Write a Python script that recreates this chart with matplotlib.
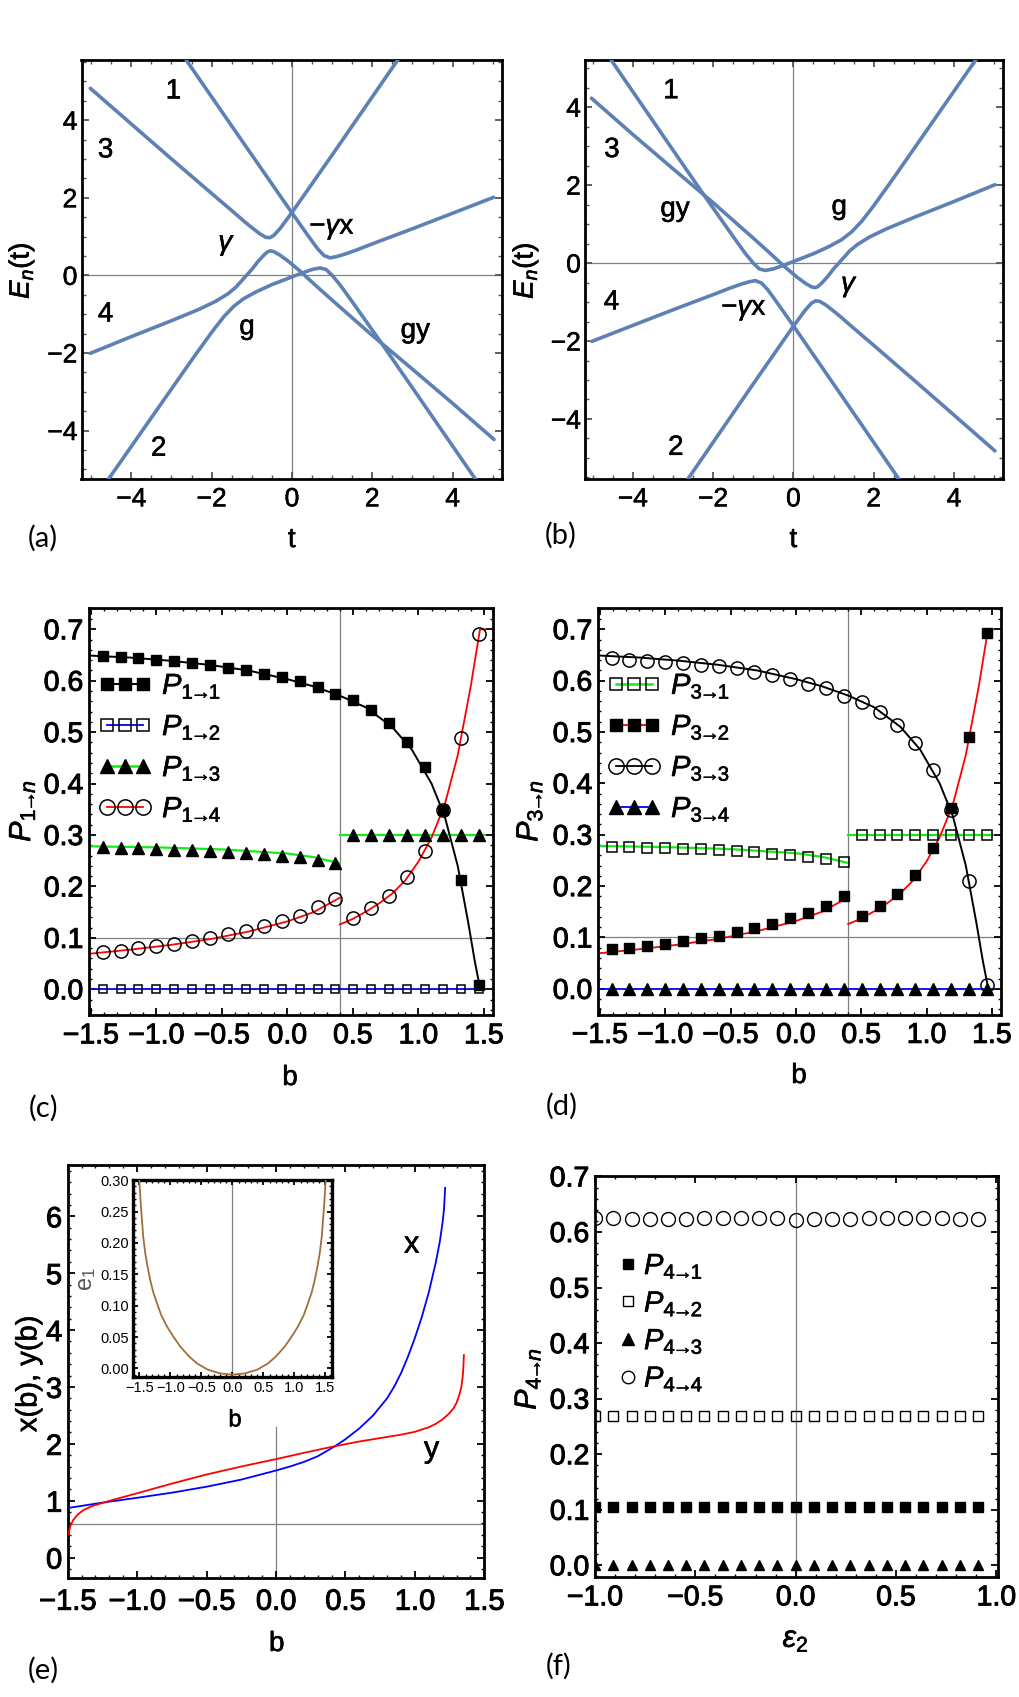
import matplotlib
matplotlib.use('Agg')
import matplotlib.pyplot as plt
import matplotlib.patheffects as pe
from matplotlib.lines import Line2D
from matplotlib.ticker import MultipleLocator

plt.rcParams['font.family'] = ['Liberation Sans', 'DejaVu Sans']
plt.rcParams['mathtext.fontset'] = 'custom'
plt.rcParams['mathtext.rm'] = 'Liberation Sans'
plt.rcParams['mathtext.it'] = 'Liberation Sans:italic'
plt.rcParams['mathtext.bf'] = 'Liberation Sans:bold'

# ---------------- data: panel (a) energy curves ----------------
A1_t = [-2.7, -1.5, 0.0, 0.3, 0.5, 0.65, 0.8, 0.95, 1.1, 1.3, 1.6, 2.0, 3.0, 4.0, 5.02]
A1_E = [5.65, 3.85, 1.61, 1.17, 0.88, 0.67, 0.51, 0.45, 0.48, 0.54, 0.65, 0.81, 1.2, 1.6, 2.01]
A2_t = [-5.02, -4.0, -3.0, -2.0, -1.5, -1.2, -1.0, -0.8, -0.65, -0.55, -0.45, -0.3, -0.1, 0.0, 1.0, 2.0, 2.7]
A2_E = [4.82, 3.9, 3.0, 2.11, 1.67, 1.40, 1.23, 1.07, 0.98, 0.97, 1.03, 1.20, 1.48, 1.62, 3.1, 4.6, 5.65]
A3_t = [-5.02, -4.0, -3.0, -2.3, -1.9, -1.6, -1.4, -1.2, -1.0, -0.85, -0.7, -0.6, -0.54, -0.45, -0.3, -0.1, 0.2, 0.6, 1.0, 2.0, 3.0, 4.0, 5.03]
A3_E = [-2.01, -1.58, -1.17, -0.87, -0.67, -0.48, -0.31, -0.08, 0.15, 0.35, 0.52, 0.61, 0.63, 0.61, 0.52, 0.37, 0.11, -0.27, -0.64, -1.55, -2.42, -3.3, -4.23]
A4_t = [-4.6, -3.5, -2.5, -2.0, -1.7, -1.45, -1.2, -0.9, -0.5, -0.2, 0.2, 0.5, 0.7, 0.85, 1.0, 1.2, 1.5, 2.17, 3.0, 4.0, 4.6]
A4_E = [-5.3, -3.67, -2.19, -1.47, -1.07, -0.80, -0.60, -0.43, -0.24, -0.12, 0.04, 0.15, 0.19, 0.15, 0.0, -0.25, -0.68, -1.66, -2.9, -4.4, -5.3]

# ---------------- data: panel (b) energy curves ----------------
B1_t = [2.7, 1.5, 0.0, -0.3, -0.5, -0.65, -0.8, -0.95, -1.1, -1.3, -1.6, -2.0, -3.0, -4.0, -5.02]
B1_E = [-5.65, -3.85, -1.61, -1.17, -0.88, -0.67, -0.51, -0.45, -0.48, -0.54, -0.65, -0.81, -1.2, -1.6, -2.01]
B2_t = [5.02, 4.0, 3.0, 2.0, 1.5, 1.2, 1.0, 0.8, 0.65, 0.55, 0.45, 0.3, 0.1, 0.0, -1.0, -2.0, -2.7]
B2_E = [-4.82, -3.9, -3.0, -2.11, -1.67, -1.40, -1.23, -1.07, -0.98, -0.97, -1.03, -1.20, -1.48, -1.62, -3.1, -4.6, -5.65]
B3_t = [5.02, 4.0, 3.0, 2.3, 1.9, 1.6, 1.4, 1.2, 1.0, 0.85, 0.7, 0.6, 0.54, 0.45, 0.3, 0.1, -0.2, -0.6, -1.0, -2.0, -3.0, -4.0, -5.03]
B3_E = [2.01, 1.58, 1.17, 0.87, 0.67, 0.48, 0.31, 0.08, -0.15, -0.35, -0.52, -0.61, -0.63, -0.61, -0.52, -0.37, -0.11, 0.27, 0.64, 1.55, 2.42, 3.3, 4.23]
B4_t = [4.6, 3.5, 2.5, 2.0, 1.7, 1.45, 1.2, 0.9, 0.5, 0.2, -0.2, -0.5, -0.7, -0.85, -1.0, -1.2, -1.5, -2.17, -3.0, -4.0, -4.6]
B4_E = [5.3, 3.67, 2.19, 1.47, 1.07, 0.80, 0.60, 0.43, 0.24, 0.12, -0.04, -0.15, -0.19, -0.15, 0.0, 0.25, 0.68, 1.66, 2.9, 4.4, 5.3]

E_ticks = [-4, -2, 0, 2, 4]
E_ticklabels = ['\u22124', '\u22122', '0', '2', '4']

# ---------------- data: panels (c), (d) ----------------
b_pts = [-1.41, -1.273, -1.137, -1.0, -0.863, -0.727, -0.59, -0.453, -0.317, -0.18, -0.043,
         0.093, 0.23, 0.367, 0.503, 0.64, 0.777, 0.913, 1.05, 1.187, 1.323, 1.46]
P11 = [0.648, 0.646, 0.645, 0.641, 0.638, 0.635, 0.631, 0.625, 0.621, 0.613, 0.607, 0.599, 0.587, 0.575,
       0.563, 0.543, 0.517, 0.481, 0.432, 0.349, 0.213, 0.009]
P12 = [0.0] * 22
P13 = [0.276, 0.275, 0.274, 0.273, 0.271, 0.270, 0.269, 0.267, 0.265, 0.263, 0.260, 0.257, 0.252, 0.246,
       0.3, 0.3, 0.3, 0.3, 0.3, 0.3, 0.3, 0.3]
P14 = [0.072, 0.075, 0.080, 0.084, 0.089, 0.094, 0.100, 0.107, 0.114, 0.123, 0.132, 0.143, 0.160, 0.176,
       0.138, 0.159, 0.182, 0.218, 0.268, 0.348, 0.488, 0.690]
P31 = [0.277, 0.276, 0.275, 0.274, 0.273, 0.272, 0.270, 0.268, 0.266, 0.263, 0.260, 0.257, 0.252, 0.247,
       0.3, 0.3, 0.3, 0.3, 0.3, 0.3, 0.3, 0.3]
P32 = [0.077, 0.080, 0.084, 0.087, 0.093, 0.098, 0.103, 0.110, 0.118, 0.127, 0.137, 0.148, 0.162, 0.180,
       0.141, 0.162, 0.185, 0.221, 0.274, 0.352, 0.490, 0.692]
P33 = [0.645, 0.641, 0.638, 0.636, 0.634, 0.631, 0.628, 0.624, 0.617, 0.610, 0.603, 0.594, 0.585, 0.571,
       0.559, 0.538, 0.513, 0.478, 0.426, 0.349, 0.209, 0.007]
P34 = [0.0] * 22

# theory curves
Lk_b = [-1.514, -1.2, -0.9, -0.6, -0.3, 0.0, 0.2, 0.4, 0.6, 0.8, 0.95, 1.1, 1.2, 1.3, 1.38, 1.43, 1.472]
Lk_v = [0.649, 0.645, 0.639, 0.631, 0.620, 0.603, 0.589, 0.571, 0.548, 0.510, 0.466, 0.400, 0.337, 0.240, 0.130, 0.055, 0.0]
Lr1_b = [-1.514, -1.2, -0.9, -0.6, -0.3, 0.0, 0.2, 0.4]
Lr1_v = [0.069, 0.077, 0.086, 0.097, 0.112, 0.132, 0.150, 0.178]
Lr2_b = [0.4, 0.5, 0.6, 0.7, 0.8, 0.9, 1.0, 1.1, 1.2, 1.3, 1.4, 1.47, 1.51]
Lr2_v = [0.126, 0.137, 0.151, 0.167, 0.186, 0.212, 0.248, 0.295, 0.358, 0.455, 0.59, 0.70, 0.70]
Lg1_b = [-1.514, -1.0, -0.5, 0.0, 0.2, 0.4]
Lg1_v = [0.278, 0.276, 0.272, 0.264, 0.257, 0.245]
Lg2_b = [0.4, 1.51]
Lg2_v = [0.3, 0.3]
Lbl_b = [-1.514, 1.51]
Lbl_v = [0.0, 0.0]

b_ticks = [-1.5, -1.0, -0.5, 0.0, 0.5, 1.0, 1.5]
b_ticklabels = ['\u22121.5', '\u22121.0', '\u22120.5', '0.0', '0.5', '1.0', '1.5']
p_ticks = [0.0, 0.1, 0.2, 0.3, 0.4, 0.5, 0.6, 0.7]
p_ticklabels = ['0.0', '0.1', '0.2', '0.3', '0.4', '0.5', '0.6', '0.7']

# ---------------- data: panel (e) ----------------
xb_b = [-1.5, -1.25, -1.0, -0.75, -0.5, -0.25, 0.0, 0.1, 0.2, 0.3, 0.42, 0.5, 0.6, 0.7, 0.8, 0.85,
        0.9, 0.95, 1.0, 1.05, 1.1, 1.15, 1.18, 1.2, 1.21, 1.218]
xb_v = [0.87, 0.965, 1.05, 1.14, 1.245, 1.37, 1.53, 1.60, 1.68, 1.78, 1.95, 2.08, 2.27, 2.50, 2.80, 3.0,
        3.24, 3.53, 3.86, 4.23, 4.66, 5.18, 5.56, 5.9, 6.13, 6.5]
yb_b = [-1.495, -1.48, -1.46, -1.43, -1.39, -1.33, -1.25, -1.18, -1.0, -0.75, -0.5, -0.25, 0.0, 0.2,
        0.4, 0.6, 0.8, 0.9, 1.0, 1.1, 1.15, 1.2, 1.25, 1.28, 1.3, 1.32, 1.335, 1.345, 1.35, 1.353]
yb_v = [0.41, 0.56, 0.66, 0.75, 0.83, 0.90, 0.96, 1.01, 1.13, 1.30, 1.46, 1.60, 1.73, 1.84,
        1.945, 2.04, 2.12, 2.16, 2.21, 2.29, 2.35, 2.43, 2.54, 2.63, 2.72, 2.86, 3.0, 3.2, 3.38, 3.56]
e1_b = [-1.505, -1.5, -1.48, -1.461, -1.44, -1.408, -1.37, -1.327, -1.28, -1.219, -1.15, -1.058, -0.95,
        -0.844, -0.7, -0.574, -0.4, -0.2, 0.0, 0.2, 0.4, 0.574, 0.7, 0.844, 0.95, 1.058, 1.15, 1.219,
        1.28, 1.327, 1.37, 1.408, 1.44, 1.461, 1.48, 1.5, 1.505]
e1_v = [0.305, 0.295, 0.262, 0.237, 0.21, 0.184, 0.162, 0.141, 0.122, 0.104, 0.085, 0.067, 0.05,
        0.035, 0.019, 0.008, -0.002, -0.008, -0.010, -0.008, -0.002, 0.008, 0.019, 0.035, 0.05, 0.067,
        0.085, 0.104, 0.122, 0.141, 0.162, 0.184, 0.21, 0.237, 0.262, 0.295, 0.305]
xy_ticks = [0, 1, 2, 3, 4, 5, 6]
xy_ticklabels = ['0', '1', '2', '3', '4', '5', '6']
e1_ticks = [0.0, 0.05, 0.10, 0.15, 0.20, 0.25, 0.30]
e1_ticklabels = ['0.00', '0.05', '0.10', '0.15', '0.20', '0.25', '0.30']

# ---------------- data: panel (f) ----------------
eps2 = [-1.0, -0.909, -0.818, -0.727, -0.636, -0.545, -0.455, -0.364, -0.273, -0.182, -0.091,
        0.0, 0.091, 0.182, 0.273, 0.364, 0.455, 0.545, 0.636, 0.727, 0.818, 0.909]
P41 = [0.105] * 22
P42 = [0.269] * 22
P43 = [0.0] * 22
P44 = [0.625, 0.625, 0.623, 0.623, 0.623, 0.623, 0.625, 0.625, 0.625, 0.625, 0.625,
       0.622, 0.623, 0.623, 0.623, 0.625, 0.625, 0.625, 0.625, 0.625, 0.623, 0.623]
f_xticks = [-1.0, -0.5, 0.0, 0.5, 1.0]
f_xticklabels = ['\u22121.0', '\u22120.5', '0.0', '0.5', '1.0']

# ---------------- figure ----------------
W, H = 1019, 1697
fig = plt.figure(figsize=(W / 100, H / 100), dpi=100)
fig.patch.set_facecolor('white')

HEAVY = [pe.withStroke(linewidth=0.7, foreground='black')]
MED = [pe.withStroke(linewidth=0.4, foreground='black')]


def add_ax(l, t, r, b):
    return fig.add_axes([l / W, 1 - b / H, (r - l) / W, (b - t) / H])


def ftext(x, y, s, effects=None, **kw):
    t = fig.text(x / W, 1 - y / H, s, ha='center', va='center', **kw)
    if effects:
        t.set_path_effects(effects)
    return t


def style(ax, lw=2.0, tcol='#555555', maj=5, mnr=3):
    for s in ax.spines.values():
        s.set_linewidth(lw)
        s.set_color('black')
    ax.tick_params(which='both', direction='in', top=True, right=True, color=tcol)
    ax.tick_params(which='major', length=maj, width=1.3)
    ax.tick_params(which='minor', length=mnr, width=1.0)


def heavy_ticks(ax, eff):
    for lab in ax.get_xticklabels() + ax.get_yticklabels():
        lab.set_path_effects(eff)


GRAY = '#808080'
MBLUE = '#5E81B5'

# ---- (a) ----
axa = add_ax(81.5, 60, 502, 479)
for t, E in [(A1_t, A1_E), (A2_t, A2_E), (A3_t, A3_E), (A4_t, A4_E)]:
    axa.plot(t, E, color=MBLUE, lw=2.6, solid_capstyle='round', zorder=3)
axa.set_xlim(-5.24, 5.23)
axa.set_ylim(-5.25, 5.55)
axa.axhline(0, color=GRAY, lw=0.9, zorder=1)
axa.axvline(0, color=GRAY, lw=0.9, zorder=1)
axa.set_xticks(E_ticks, E_ticklabels)
axa.set_yticks(E_ticks, E_ticklabels)
axa.xaxis.set_minor_locator(MultipleLocator(0.5))
axa.yaxis.set_minor_locator(MultipleLocator(0.5))
style(axa)
axa.tick_params(axis='x', labelsize=19, pad=6)
axa.tick_params(axis='y', labelsize=19, pad=3)
heavy_ticks(axa, MED)
for tx, ty, s in [(-2.95, 4.74, '1'), (-4.64, 3.22, '3'), (-1.62, 0.78, r'$\gamma$'),
                  (1.0, 1.2, '\u2212$\\gamma$x'), (-4.64, -1.01, '4'), (-1.12, -1.34, 'g'),
                  (3.07, -1.43, 'gy'), (-3.32, -4.47, '2')]:
    axa.text(tx, ty, s, fontsize=20, ha='center', va='center', zorder=4, path_effects=MED)

# ---- (b) ----
axb = add_ax(585, 60, 1003, 479)
for t, E in [(B1_t, B1_E), (B2_t, B2_E), (B3_t, B3_E), (B4_t, B4_E)]:
    axb.plot(t, E, color=MBLUE, lw=2.6, solid_capstyle='round', zorder=3)
axb.set_xlim(-5.19, 5.22)
axb.set_ylim(-5.54, 5.21)
axb.axhline(0, color=GRAY, lw=0.9, zorder=1)
axb.axvline(0, color=GRAY, lw=0.9, zorder=1)
axb.set_xticks(E_ticks, E_ticklabels)
axb.set_yticks(E_ticks, E_ticklabels)
axb.xaxis.set_minor_locator(MultipleLocator(0.5))
axb.yaxis.set_minor_locator(MultipleLocator(0.5))
style(axb)
axb.tick_params(axis='x', labelsize=19, pad=6)
axb.tick_params(axis='y', labelsize=19, pad=3)
heavy_ticks(axb, MED)
for tx, ty, s in [(-3.05, 4.41, '1'), (-4.52, 2.9, '3'), (-2.95, 1.38, 'gy'), (1.14, 1.43, 'g'),
                  (-4.53, -1.01, '4'), (1.4, -0.6, r'$\gamma$'), (-1.23, -1.2, '\u2212$\\gamma$x'),
                  (-2.93, -4.74, '2')]:
    axb.text(tx, ty, s, fontsize=20, ha='center', va='center', zorder=4, path_effects=MED)

GREEN = '#11ee11'
TFS = 20.5


def pstyle(ax):
    ax.set_xlim(-1.514, 1.567)
    ax.set_ylim(-0.050, 0.742)
    ax.axvline(0.4, color=GRAY, lw=0.9, zorder=1)
    ax.axhline(0.1, color=GRAY, lw=0.9, zorder=1)
    ax.set_xticks(b_ticks, b_ticklabels)
    ax.set_yticks(p_ticks, p_ticklabels)
    ax.xaxis.set_minor_locator(MultipleLocator(0.1))
    ax.yaxis.set_minor_locator(MultipleLocator(0.02))
    style(ax, tcol='black', maj=5, mnr=2.5)
    ax.tick_params(axis='x', labelsize=TFS, pad=6)
    ax.tick_params(axis='y', labelsize=TFS, pad=4)
    heavy_ticks(ax, HEAVY)


LEG_KW = dict(loc='upper left', bbox_to_anchor=(0.022, 0.842), numpoints=3, frameon=False, fontsize=21,
              handlelength=1.85, handletextpad=0.35, labelspacing=0.42, borderaxespad=0, borderpad=0)

# ---- (c) ----
axc = add_ax(89, 607.7, 492.7, 1015)
axc.plot(Lbl_b, Lbl_v, color='blue', lw=1.3, zorder=2)
axc.plot(Lg1_b, Lg1_v, color=GREEN, lw=1.6, zorder=2)
axc.plot(Lg2_b, Lg2_v, color=GREEN, lw=1.6, zorder=2)
axc.plot(Lr1_b, Lr1_v, color='red', lw=1.3, zorder=2)
axc.plot(Lr2_b, Lr2_v, color='red', lw=1.3, zorder=2)
axc.plot(Lk_b, Lk_v, color='black', lw=1.4, zorder=2)
axc.plot(b_pts, P12, ls='none', marker='s', ms=6, mfc='none', mec='black', mew=1.1, zorder=3)
axc.plot(b_pts, P13, ls='none', marker='^', ms=8, mfc='black', mec='black', zorder=3)
axc.plot(b_pts, P14, ls='none', marker='o', ms=9.5, mfc='none', mec='black', mew=1.1, zorder=3)
axc.plot(b_pts, P11, ls='none', marker='s', ms=7.2, mfc='black', mec='black', zorder=4)
pstyle(axc)
hc = [Line2D([], [], color='black', lw=1.4, marker='s', ms=8.5, mfc='black', mec='black'),
      Line2D([], [], color='blue', lw=1.3, marker='s', ms=8, mfc='none', mec='black', mew=1.1),
      Line2D([], [], color=GREEN, lw=1.8, marker='^', ms=10, mfc='black', mec='black'),
      Line2D([], [], color='red', lw=1.3, marker='o', ms=11, mfc='none', mec='black', mew=1.1)]
legc = axc.legend(hc, [r'$P_{1\!\!\rightarrow\!\!1}$', r'$P_{1\!\!\rightarrow\!\!2}$',
                       r'$P_{1\!\!\rightarrow\!\!3}$', r'$P_{1\!\!\rightarrow\!\!4}$'], **LEG_KW)
for tx in legc.get_texts():
    tx.set_path_effects(MED)

# ---- (d) ----
axd = add_ax(598, 607.7, 1000.7, 1014.5)
axd.plot(Lbl_b, Lbl_v, color='blue', lw=1.3, zorder=2)
axd.plot(Lg1_b, Lg1_v, color=GREEN, lw=1.6, zorder=2)
axd.plot(Lg2_b, Lg2_v, color=GREEN, lw=1.6, zorder=2)
axd.plot(Lr1_b, Lr1_v, color='red', lw=1.3, zorder=2)
axd.plot(Lr2_b, Lr2_v, color='red', lw=1.3, zorder=2)
axd.plot(Lk_b, Lk_v, color='black', lw=1.4, zorder=2)
axd.plot(b_pts, P34, ls='none', marker='^', ms=8, mfc='black', mec='black', zorder=3)
axd.plot(b_pts, P31, ls='none', marker='s', ms=6.5, mfc='none', mec='black', mew=1.1, zorder=3)
axd.plot(b_pts, P32, ls='none', marker='s', ms=7.2, mfc='black', mec='black', zorder=3)
axd.plot(b_pts, P33, ls='none', marker='o', ms=9.5, mfc='none', mec='black', mew=1.1, zorder=4)
pstyle(axd)
hd = [Line2D([], [], color=GREEN, lw=1.8, marker='s', ms=8, mfc='none', mec='black', mew=1.1),
      Line2D([], [], color='red', lw=1.3, marker='s', ms=8.5, mfc='black', mec='black'),
      Line2D([], [], color='black', lw=1.3, marker='o', ms=11, mfc='none', mec='black', mew=1.1),
      Line2D([], [], color='blue', lw=1.3, marker='^', ms=10, mfc='black', mec='black')]
legd = axd.legend(hd, [r'$P_{3\!\!\rightarrow\!\!1}$', r'$P_{3\!\!\rightarrow\!\!2}$',
                       r'$P_{3\!\!\rightarrow\!\!3}$', r'$P_{3\!\!\rightarrow\!\!4}$'], **LEG_KW)
for tx in legd.get_texts():
    tx.set_path_effects(MED)

# ---- (e) ----
axe = add_ax(67.7, 1164.8, 484.3, 1578)
axe.plot(xb_b, xb_v, color='blue', lw=1.3, zorder=3)
axe.plot(yb_b, yb_v, color='red', lw=1.3, zorder=3)
axe.set_xlim(-1.5, 1.5)
axe.set_ylim(-0.36, 6.905)
axe.axhline(0.59, color=GRAY, lw=0.9, zorder=1)
axe.axvline(0.0, ymin=0, ymax=0.365, color=GRAY, lw=0.9, zorder=1)
axe.set_xticks(b_ticks, b_ticklabels)
axe.set_yticks(xy_ticks, xy_ticklabels)
axe.xaxis.set_minor_locator(MultipleLocator(0.1))
axe.yaxis.set_minor_locator(MultipleLocator(0.2))
style(axe, tcol='black', maj=5, mnr=2.5)
axe.tick_params(axis='x', labelsize=21, pad=7)
axe.tick_params(axis='y', labelsize=21, pad=4)
heavy_ticks(axe, HEAVY)
axe.text(0.977, 5.5, 'x', fontsize=22, ha='center', va='center', path_effects=MED)
axe.text(1.12, 1.9, 'y', fontsize=22, ha='center', va='center', path_effects=MED)

# inset
axi = add_ax(133.3, 1179.5, 332.3, 1377.3)
axi.set_facecolor('white')
axi.plot(e1_b, e1_v, color='#a0703c', lw=1.3, zorder=3)
axi.set_xlim(-1.6, 1.61)
axi.set_ylim(-0.0142, 0.301)
axi.axvline(0.0, color=GRAY, lw=0.9, zorder=1)
axi.set_xticks(b_ticks, b_ticklabels)
axi.set_yticks(e1_ticks, e1_ticklabels)
axi.xaxis.set_minor_locator(MultipleLocator(0.1))
axi.yaxis.set_minor_locator(MultipleLocator(0.01))
style(axi, lw=2.4, tcol='black', maj=3.5, mnr=2)
axi.tick_params(axis='both', labelsize=10.5, pad=3)

# ---- (f) ----
axf = add_ax(595, 1175.9, 998, 1577)
axf.plot(eps2, P44, ls='none', marker='o', ms=10, mfc='none', mec='black', mew=1.0, zorder=3)
axf.plot(eps2, P42, ls='none', marker='s', ms=6.7, mfc='none', mec='black', mew=1.0, zorder=3)
axf.plot(eps2, P41, ls='none', marker='s', ms=6.7, mfc='black', mec='black', zorder=3)
axf.plot(eps2, P43, ls='none', marker='^', ms=7.7, mfc='black', mec='black', zorder=3)
axf.set_xlim(-1.0, 1.008)
axf.set_ylim(-0.021, 0.701)
axf.axvline(0.0, color=GRAY, lw=0.9, zorder=1)
axf.set_xticks(f_xticks, f_xticklabels)
axf.set_yticks(p_ticks, p_ticklabels)
axf.xaxis.set_minor_locator(MultipleLocator(0.1))
axf.yaxis.set_minor_locator(MultipleLocator(0.02))
style(axf, tcol='black', maj=5, mnr=2.5)
axf.tick_params(axis='x', labelsize=TFS, pad=6)
axf.tick_params(axis='y', labelsize=TFS, pad=4)
heavy_ticks(axf, HEAVY)
hf = [Line2D([], [], ls='none', marker='s', ms=7, mfc='black', mec='black'),
      Line2D([], [], ls='none', marker='s', ms=7, mfc='none', mec='black', mew=1.0),
      Line2D([], [], ls='none', marker='^', ms=8, mfc='black', mec='black'),
      Line2D([], [], ls='none', marker='o', ms=9, mfc='none', mec='black', mew=1.0)]
legf = axf.legend(hf, [r'$P_{4\!\!\rightarrow\!\!1}$', r'$P_{4\!\!\rightarrow\!\!2}$',
                       r'$P_{4\!\!\rightarrow\!\!3}$', r'$P_{4\!\!\rightarrow\!\!4}$'],
                  loc='upper left', bbox_to_anchor=(0.06, 0.81), numpoints=1, frameon=False, fontsize=21,
                  handlelength=0.6, handletextpad=0.25, labelspacing=0.3, borderaxespad=0, borderpad=0)
for tx in legf.get_texts():
    tx.set_path_effects(MED)

# ---- axis labels and panel labels ----
ftext(291.7, 540, 't', MED, fontsize=20)
ftext(793.3, 540, 't', MED, fontsize=20)
ftext(290, 1078, 'b', MED, fontsize=20)
ftext(799, 1076, 'b', MED, fontsize=20)
ftext(276.7, 1644, 'b', MED, fontsize=20)
ftext(795.7, 1639, r'$\epsilon_2$', MED, fontsize=22)
ftext(21.7, 270.6, r'$E_n$(t)', MED, fontsize=20, rotation=90)
ftext(525.7, 270.6, r'$E_n$(t)', MED, fontsize=20, rotation=90)
ftext(21.7, 811, r'$P_{1\!\!\rightarrow\!\!n}$', MED, fontsize=22, rotation=90)
ftext(529, 811, r'$P_{3\!\!\rightarrow\!\!n}$', MED, fontsize=22, rotation=90)
ftext(28.3, 1373.7, 'x(b), y(b)', MED, fontsize=21, rotation=90)
ftext(527.3, 1379, r'$P_{4\!\!\rightarrow\!\!n}$', MED, fontsize=22, rotation=90)
ftext(235, 1420.3, 'b', MED, fontsize=17)
ftext(87.3, 1278.7, r'e$_1$', None, fontsize=17, rotation=90, color='#555555')

for x, y, s in [(43, 538, '(a)'), (560.7, 535, '(b)'), (43.3, 1108, '(c)'),
                (562, 1106.6, '(d)'), (43, 1670, '(e)'), (559, 1666, '(f)')]:
    ftext(x, y, s, None, fontsize=21, family=['Lato', 'DejaVu Sans'])

fig.savefig('out.png', dpi=100, facecolor='white')
